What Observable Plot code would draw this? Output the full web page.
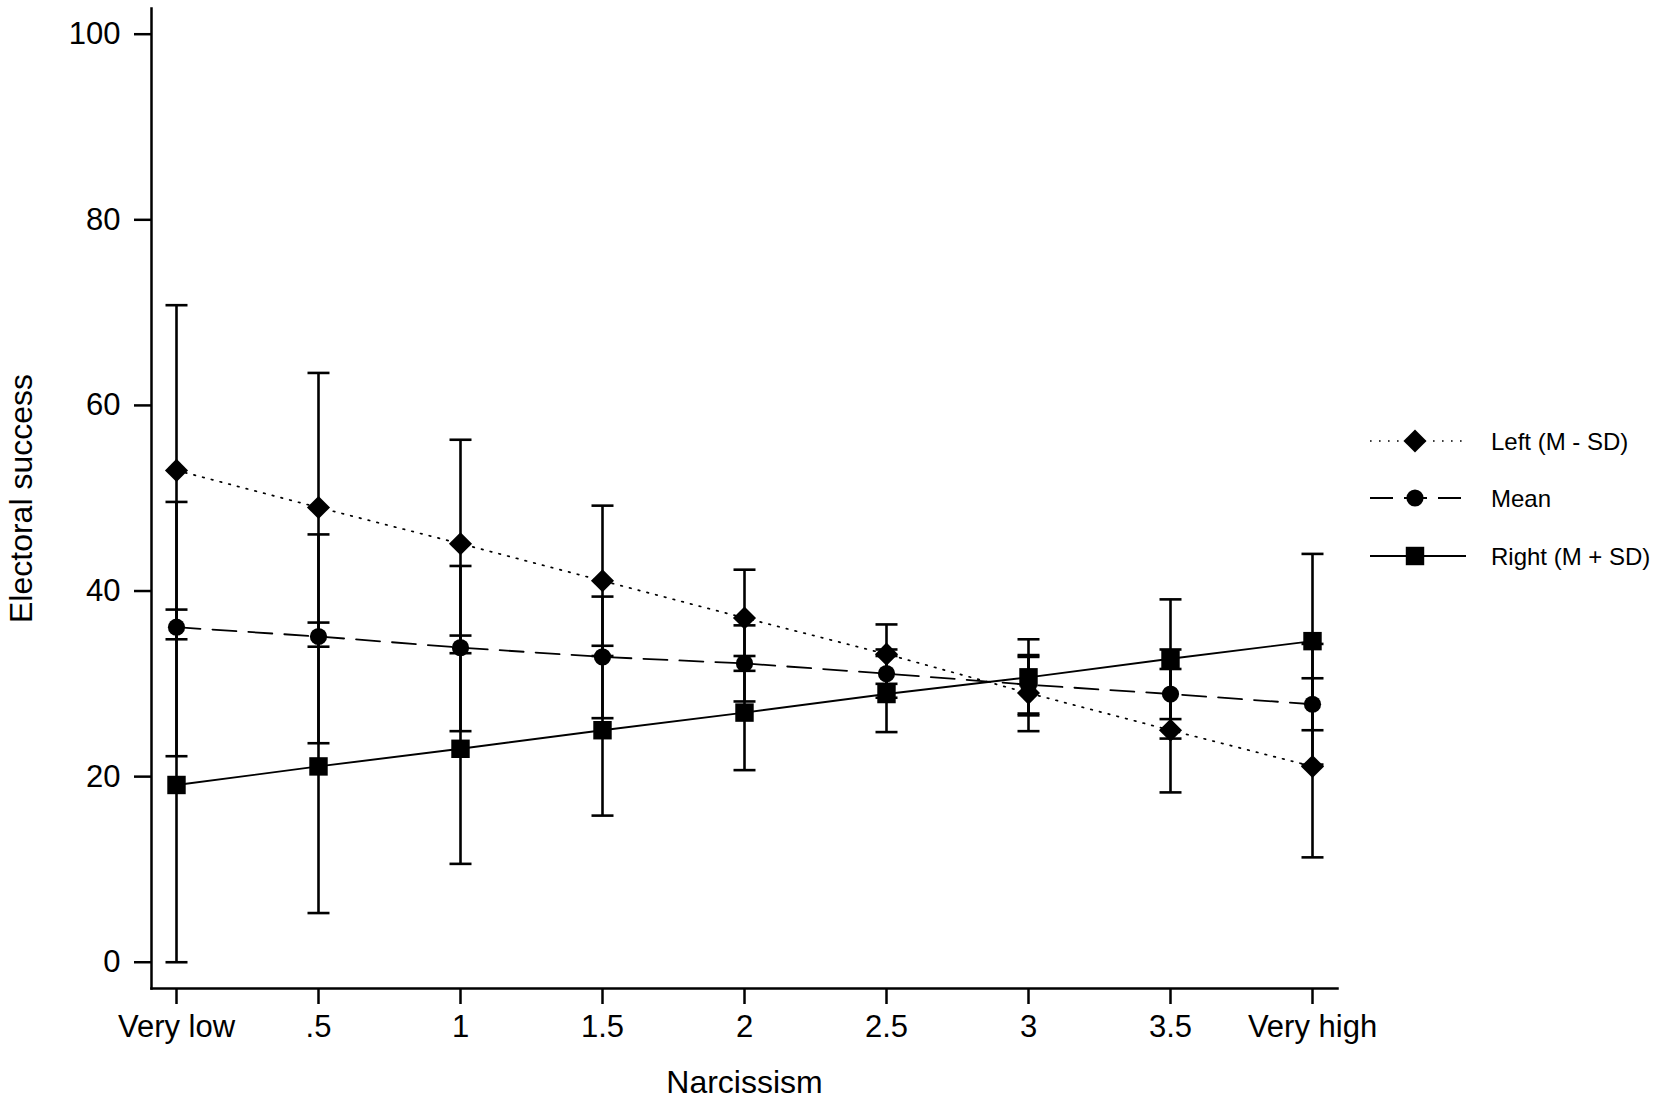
<!DOCTYPE html>
<html><head><meta charset="utf-8">
<script src="https://cdn.jsdelivr.net/npm/d3@7"></script>
<script src="https://cdn.jsdelivr.net/npm/@observablehq/plot@0.6"></script>
<style>
body{margin:0;background:#fff;}
#wrap{position:relative;width:1654px;height:1101px;font-family:"Liberation Sans",Arial,sans-serif;}
#legend{position:absolute;left:0;top:0;pointer-events:none;}
</style></head><body><div id="wrap"></div>
<script>
// Categories (Narcissism) and tick labels
const categories = ["Very low", ".5", "1", "1.5", "2", "2.5", "3", "3.5", "Very high"];
const yTicks = [0, 20, 40, 60, 80, 100];
const seriesNames = ["Left (M - SD)", "Mean", "Right (M + SD)"];

// Left (M - SD)
const leftValue = [53.0, 49.0, 45.1, 41.1, 37.1, 33.2, 29.0, 25.0, 21.1];
const leftLow   = [34.8, 34.0, 33.3, 33.0, 31.4, 30.0, 24.9, 18.3, 11.3];
const leftHigh  = [70.8, 63.5, 56.3, 49.2, 42.3, 36.4, 33.1, 31.6, 30.6];
// Mean
const meanValue = [36.1, 35.1, 33.9, 32.9, 32.2, 31.1, 29.9, 28.9, 27.8];
const meanLow   = [22.2, 23.6, 24.9, 26.3, 28.1, 28.5, 26.8, 24.1, 21.3];
const meanHigh  = [49.6, 46.1, 42.7, 39.4, 36.3, 33.7, 32.9, 33.7, 34.3];
// Right (M + SD)
const rightValue = [19.1, 21.1, 23.0, 25.0, 26.9, 28.9, 30.7, 32.7, 34.6];
const rightLow   = [0.0, 5.3, 10.6, 15.8, 20.7, 24.8, 26.6, 26.2, 25.0];
const rightHigh  = [38.0, 36.6, 35.2, 34.1, 33.0, 33.0, 34.8, 39.1, 44.0];

function rows(name, vals, lo, hi) {
  return categories.map((c, i) => ({series: name, cat: c, y: vals[i], lo: lo[i], hi: hi[i]}));
}
const L = rows(seriesNames[0], leftValue, leftLow, leftHigh);
const M = rows(seriesNames[1], meanValue, meanLow, meanHigh);
const R = rows(seriesNames[2], rightValue, rightLow, rightHigh);
const all = [...L, ...M, ...R];

const FONT = "'Liberation Sans', Arial, sans-serif";
const barW = 2.6;
// horizontal cap symbol for the error bars
const capSymbol = {draw(context) { context.moveTo(-11, 0); context.lineTo(11, 0); }};

const plot = Plot.plot({
  width: 1654, height: 1101,
  marginLeft: 151, marginRight: 317, marginTop: 8, marginBottom: 113,
  style: {fontFamily: FONT, fontSize: "31px", color: "#000", background: "#fff", overflow: "visible"},
  x: {type: "point", domain: categories, padding: 0.17},
  y: {domain: [-2.83, 102.77]},
  marks: [
    Plot.frame({anchor: "left", strokeWidth: 2.5, stroke: "#000"}),
    Plot.frame({anchor: "bottom", strokeWidth: 2.5, stroke: "#000"}),
    Plot.axisY({ticks: yTicks, tickSize: 17, tickPadding: 14, strokeWidth: 2.5, fontSize: 31, label: null}),
    Plot.axisY({ticks: [], tickSize: 0, fontSize: 32,
      label: "Electoral success", labelAnchor: "center", labelOffset: 142, labelArrow: "none"}),
    Plot.axisX({tickSize: 16, tickPadding: 10, strokeWidth: 2.5, fontSize: 31, label: null}),
    Plot.axisX({ticks: [], tickSize: 0, fontSize: 32,
      label: "Narcissism", labelAnchor: "center", labelOffset: 104, labelArrow: "none"}),
    Plot.ruleX(all, {x: "cat", y1: "lo", y2: "hi", strokeWidth: barW, stroke: "#000"}),
    Plot.dot(all, {x: "cat", y: "lo", symbol: capSymbol, r: 5, stroke: "#000", fill: "none", strokeWidth: barW}),
    Plot.dot(all, {x: "cat", y: "hi", symbol: capSymbol, r: 5, stroke: "#000", fill: "none", strokeWidth: barW}),
    Plot.line(L, {x: "cat", y: "y", stroke: "#000", strokeWidth: 1.7, strokeDasharray: "1.6,7.4"}),
    Plot.line(M, {x: "cat", y: "y", stroke: "#000", strokeWidth: 1.8, strokeDasharray: "24,12"}),
    Plot.line(R, {x: "cat", y: "y", stroke: "#000", strokeWidth: 1.9}),
    Plot.dot(L, {x: "cat", y: "y", symbol: "diamond2", r: 10.4, fill: "#000", stroke: "none"}),
    Plot.dot(M, {x: "cat", y: "y", symbol: "circle", r: 8.6, fill: "#000", stroke: "none"}),
    Plot.dot(R, {x: "cat", y: "y", symbol: "square", r: 10.4, fill: "#000", stroke: "none"})
  ]
});
const wrap = document.getElementById("wrap");
wrap.appendChild(plot);

// Legend
const legendItems = [
  {name: seriesNames[0], symbol: d3.symbolDiamond2, r: 10.4, dash: "1.6,7.4", sw: 1.7},
  {name: seriesNames[1], symbol: d3.symbolCircle, r: 8.6, dash: "23,11", sw: 1.8},
  {name: seriesNames[2], symbol: d3.symbolSquare, r: 10.4, dash: null, sw: 1.9}
];
const lg = d3.create("svg").attr("id", "legend").attr("width", 1654).attr("height", 1101);
const rowY = [441, 498, 556];
legendItems.forEach((d, i) => {
  const g = lg.append("g").attr("transform", `translate(0,${rowY[i]})`);
  const ln = g.append("line").attr("x1", 1370).attr("x2", 1466).attr("y1", 0).attr("y2", 0)
    .attr("stroke", "#000").attr("stroke-width", d.sw);
  if (d.dash) ln.attr("stroke-dasharray", d.dash);
  g.append("path").attr("transform", "translate(1415,0)")
    .attr("d", d3.symbol(d.symbol, Math.PI * d.r * d.r)()).attr("fill", "#000");
  g.append("text").attr("x", 1491).attr("y", 8.6).attr("font-family", FONT)
    .attr("font-size", 24).attr("fill", "#000").text(d.name);
});
wrap.appendChild(lg.node());
</script>
</body></html>
